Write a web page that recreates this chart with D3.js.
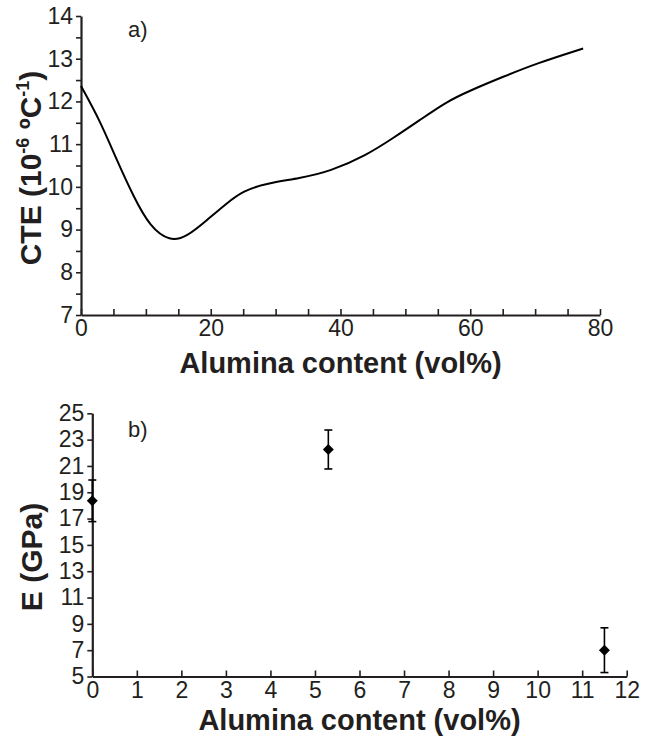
<!doctype html>
<html>
  <head>
    <meta charset="utf-8">
    <title>CTE and E vs alumina content</title>
    <script src="https://cdnjs.cloudflare.com/ajax/libs/d3/7.8.5/d3.min.js"></script>
    <style>
      body { margin: 0; background: #fff; }
      svg text { font-family: "Liberation Sans", Arial, sans-serif; fill: #231f20; }
      .axis path, .axis line { stroke: #231f20; }
    </style>
  </head>
  <body>
    <div id="chart"></div>
    <script>
      // a) CTE curve
      const cteX = [0, 2.9, 5.5, 8.1, 10.6, 13.7, 16.3, 19.4, 22.4, 25.0, 28.6, 33.7, 38.4, 44.0, 48.1, 52.2, 56.3, 59.9, 65.1, 70.2, 77.4];
      const cteY = [12.36, 11.56, 10.63, 9.77, 9.07, 8.72, 8.83, 9.22, 9.61, 9.91, 10.08, 10.20, 10.36, 10.74, 11.14, 11.56, 11.99, 12.25, 12.58, 12.89, 13.24];

      // b) Young's modulus with error bars
      const eX = [0, 5.3, 11.5];
      const eY = [18.35, 22.25, 7.0];
      const eErr = [1.58, 1.48, 1.7];

      const cteTicksY = d3.range(7, 14.01, 0.5);
      const cteTicksX = d3.range(0, 80.01, 5);
      const eTicksY = d3.range(5, 25.01, 2);
      const eTicksX = d3.range(0, 12.01, 1);

      const svg = d3.select('#chart')
        .append('svg')
        .attr('width', 656)
        .attr('height', 740);

      // ---------- panel a ----------
      const xa = d3.scaleLinear().domain([0, 80]).range([81, 600]);
      const ya = d3.scaleLinear().domain([7, 14]).range([315, 16]);

      svg.append('g')
        .attr('class', 'axis')
        .attr('transform', 'translate(0,' + ya(7) + ')')
        .call(d3.axisBottom(xa).tickValues(cteTicksX).tickSizeInner(-6).tickSizeOuter(0).tickPadding(5)
          .tickFormat(d => d % 20 === 0 ? d : ''))
        .call(g => g.select('.domain').attr('stroke-width', 2.2))
        .call(g => g.selectAll('.tick line').attr('stroke-width', 1.6))
        .call(g => g.selectAll('.tick text').attr('font-size', 23).attr('font-family', null));

      svg.append('g')
        .attr('class', 'axis')
        .attr('transform', 'translate(' + xa(0) + ',0)')
        .call(d3.axisLeft(ya).tickValues(cteTicksY).tickSizeInner(5).tickSizeOuter(0).tickPadding(3)
          .tickFormat(d => Number.isInteger(d) ? d : ''))
        .call(g => g.select('.domain').attr('stroke-width', 2.2))
        .call(g => g.selectAll('.tick line').attr('stroke-width', 1.6))
        .call(g => g.selectAll('.tick text').attr('font-size', 23).attr('font-family', null));

      const line = d3.line()
        .x((d, i) => xa(cteX[i]))
        .y(d => ya(d))
        .curve(d3.curveBasis);

      svg.append('path')
        .datum(cteY)
        .attr('d', line)
        .attr('fill', 'none')
        .attr('stroke', '#000')
        .attr('stroke-width', 2);

      svg.append('text')
        .attr('x', 128).attr('y', 37)
        .attr('font-size', 22)
        .text('a)');

      svg.append('text')
        .attr('x', xa(40)).attr('y', 373)
        .attr('text-anchor', 'middle')
        .attr('font-size', 29)
        .attr('font-weight', 'bold')
        .text('Alumina content (vol%)');

      const ta = svg.append('text')
        .attr('transform', 'translate(41,' + 168 + ') rotate(-90)')
        .attr('text-anchor', 'middle')
        .attr('font-size', 30)
        .attr('font-weight', 'bold');
      ta.append('tspan').text('CTE (10');
      ta.append('tspan').attr('dy', -12).attr('font-size', 18).text('-6');
      ta.append('tspan').attr('dy', 12).text(' ºC');
      ta.append('tspan').attr('dy', -12).attr('font-size', 18).text('-1');
      ta.append('tspan').attr('dy', 12).text(')');

      // ---------- panel b ----------
      const xb = d3.scaleLinear().domain([0, 12]).range([92.3, 626.7]);
      const yb = d3.scaleLinear().domain([5, 25]).range([676.5, 413.3]);

      svg.append('g')
        .attr('class', 'axis')
        .attr('transform', 'translate(0,' + yb(5) + ')')
        .call(d3.axisBottom(xb).tickValues(eTicksX).tickSizeInner(-6).tickSizeOuter(0).tickPadding(5))
        .call(g => g.select('.domain').attr('stroke-width', 2.2))
        .call(g => g.selectAll('.tick line').attr('stroke-width', 1.6))
        .call(g => g.selectAll('.tick text').attr('font-size', 23).attr('font-family', null));

      svg.append('g')
        .attr('class', 'axis')
        .attr('transform', 'translate(' + xb(0) + ',0)')
        .call(d3.axisLeft(yb).tickValues(eTicksY).tickSizeInner(5).tickSizeOuter(0).tickPadding(3))
        .call(g => g.select('.domain').attr('stroke-width', 2.2))
        .call(g => g.selectAll('.tick line').attr('stroke-width', 1.6))
        .call(g => g.selectAll('.tick text').attr('font-size', 23).attr('font-family', null));

      const pts = svg.append('g')
        .selectAll('g')
        .data(eY)
        .join('g');

      pts.append('line')
        .attr('x1', (d, i) => xb(eX[i])).attr('x2', (d, i) => xb(eX[i]))
        .attr('y1', (d, i) => yb(d - eErr[i])).attr('y2', (d, i) => yb(d + eErr[i]))
        .attr('stroke', '#000').attr('stroke-width', 1.6);

      [-1, 1].forEach(s => {
        pts.append('line')
          .attr('x1', (d, i) => xb(eX[i]) - 4).attr('x2', (d, i) => xb(eX[i]) + 4)
          .attr('y1', (d, i) => yb(d + s * eErr[i])).attr('y2', (d, i) => yb(d + s * eErr[i]))
          .attr('stroke', '#000').attr('stroke-width', 1.6);
      });

      pts.append('path')
        .attr('d', d3.symbol().type(d3.symbolSquare).size(60))
        .attr('transform', (d, i) => 'translate(' + xb(eX[i]) + ',' + yb(d) + ') rotate(45)')
        .attr('fill', '#000');

      svg.append('text')
        .attr('x', 128).attr('y', 437)
        .attr('font-size', 22)
        .text('b)');

      svg.append('text')
        .attr('x', xb(6)).attr('y', 730)
        .attr('text-anchor', 'middle')
        .attr('font-size', 29)
        .attr('font-weight', 'bold')
        .text('Alumina content (vol%)');

      svg.append('text')
        .attr('transform', 'translate(42,' + 557 + ') rotate(-90)')
        .attr('text-anchor', 'middle')
        .attr('font-size', 30)
        .attr('font-weight', 'bold')
        .text('E (GPa)');
    </script>
  </body>
</html>
